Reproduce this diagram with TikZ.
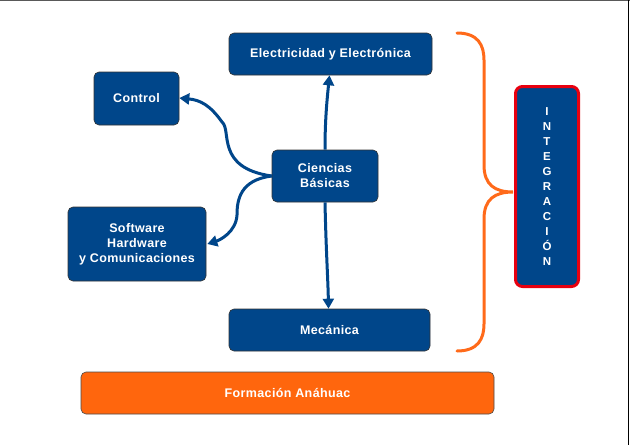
\documentclass[tikz,border=0pt]{standalone}
\usepackage{fontspec}
\setmainfont{Liberation Sans}[LetterSpace=3]
\usetikzlibrary{arrows.meta}
\definecolor{dblue}{HTML}{00468A}
\definecolor{orng}{HTML}{FF660D}
\definecolor{brace}{HTML}{FF6A1A}
\definecolor{rred}{HTML}{E8000F}
\begin{document}
\begin{tikzpicture}[x=1pt,y=-1pt,
  box/.style={draw=black!80,line width=0.6pt,fill=dblue,rounded corners=5pt,text=white,font=\bfseries\fontsize{12.5}{15}\selectfont,align=center,inner sep=0pt},
  link/.style={draw=dblue,line width=3pt,-{Triangle[length=10pt,width=11pt]}}]
\useasboundingbox (0,0) rectangle (630,445);
\fill[white] (0,0) rectangle (630,445);
\draw[gray!70!black,line width=1.2pt] (0,0.6) -- (630,0.6);
\draw[black,line width=1.2pt] (628.4,0) -- (628.4,445);
\node[box,minimum width=203pt,minimum height=42pt] (ele) at (330.5,54) {Electricidad y Electrónica};
\node[box,minimum width=85pt,minimum height=53pt] (ctl) at (136.5,98.5) {Control};
\node[box,minimum width=106pt,minimum height=52pt] (cb) at (325,176) {Ciencias\\ Básicas};
\node[box,minimum width=138pt,minimum height=74pt] (sw) at (137,244) {Software\\Hardware\\y Comunicaciones};
\node[box,minimum width=201pt,minimum height=42pt] (mec) at (329.5,330) {Mecánica};
\node[box,fill=orng,draw=black!70,minimum width=413pt,minimum height=42pt] (fa) at (287.5,393) {Formación Anáhuac};
\node[box,draw=rred,line width=3pt,rounded corners=7pt,minimum width=63pt,minimum height=200pt,font=\bfseries\fontsize{11.5}{15}\selectfont] (int) at (547,186.5) {I\\N\\T\\E\\G\\R\\A\\C\\I\\Ó\\N};
\coordinate (cbl) at ([yshift=0pt]cb.west);
\draw[link] (cb.north) .. controls (325,120) and (327,100) .. ([xshift=-1pt]ele.south);
\draw[link] (cb.south) .. controls (326,250) and (328,280) .. ([xshift=-1pt]mec.north);
\draw[link] (cbl) .. controls (215,168) and (232,130) .. (222,122) .. controls (210,105) and (200,100) .. ([yshift=0.5pt]ctl.east);
\draw[link] (cbl) .. controls (240,180) and (237,200) .. (237,215) .. controls (236,232) and (220,240) .. ([xshift=1pt]sw.east);
\draw[brace,line width=3pt,line cap=round] (457,33) .. controls (478,33) and (484,45) .. (484,60) -- (484,165) .. controls (484,185) and (495,192) .. (513,192) .. controls (495,192) and (484,199) .. (484,219) -- (484,324) .. controls (484,339) and (478,351) .. (457,351);
\end{tikzpicture}
\end{document}
